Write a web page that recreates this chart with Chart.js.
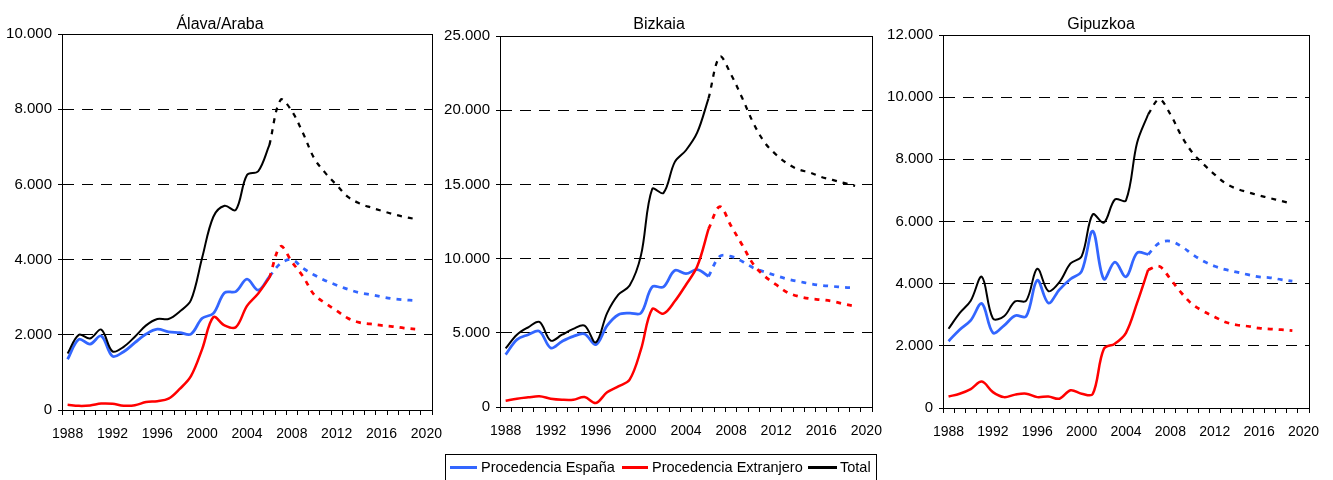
<!DOCTYPE html>
<html>
<head>
<meta charset="utf-8">
<script src="https://cdn.jsdelivr.net/npm/chart.js@4.4.1/dist/chart.umd.min.js"></script>
<style>
html, body { margin: 0; padding: 0; background: #fff; overflow: hidden; }
body { width: 1333px; height: 480px; position: relative; font-family: "Liberation Sans", Arial, sans-serif; color: #000; }
canvas { position: absolute; top: 0; }
.title { position: absolute; top: 15px; font-size: 16px; line-height: 18px; transform: translateX(-50%); white-space: nowrap; }
#legend { position: absolute; left: 445px; top: 454px; width: 432px; height: 34px; border: 1px solid #000; box-sizing: border-box; }
.sw { position: absolute; top: 11px; height: 3px; }
.lt { position: absolute; top: 4px; font-size: 14.5px; line-height: 17px; white-space: nowrap; }
</style>
</head>
<body>
<canvas id="c1" width="450" height="445" style="left:0px"></canvas>
<canvas id="c2" width="450" height="445" style="left:440px"></canvas>
<canvas id="c3" width="453" height="445" style="left:880px"></canvas>
<div class="title" style="left:220px">Álava/Araba</div>
<div class="title" style="left:659px">Bizkaia</div>
<div class="title" style="left:1101px">Gipuzkoa</div>
<div id="legend">
  <div class="sw" style="left:4px;width:27px;background:#3366ff"></div>
  <div class="lt" style="left:35px">Procedencia España</div>
  <div class="sw" style="left:176px;width:26px;background:#ff0000"></div>
  <div class="lt" style="left:206px">Procedencia Extranjero</div>
  <div class="sw" style="left:362px;width:29px;background:#000000"></div>
  <div class="lt" style="left:394px">Total</div>
</div>
<script>
const years = ['1988','1989','1990','1991','1992','1993','1994','1995','1996','1997','1998',
  '1999','2000','2001','2002','2003','2004','2005','2006','2007','2008','2009','2010',
  '2011','2012','2013','2014','2015','2016','2017','2018','2019','2020']

// datos observados 1988-2006
const alava_espana = [1350,1880,1750,1970,1430,1550,1790,2020,2150,2080,2060,2020,2440,2570,3120,3150,3480,3190,3550]
const alava_extranjero = [140,110,120,170,165,115,125,210,235,300,560,900,1620,2470,2250,2200,2770,3100,3520]
const alava_total = [1500,2000,1900,2140,1560,1680,1950,2250,2420,2420,2620,2920,4050,5140,5430,5320,6250,6350,7050]
const bizkaia_espana = [3530,4540,4870,5100,3980,4420,4760,4920,4200,5480,6220,6330,6330,8090,8100,9200,8980,9250,8800]
const bizkaia_extranjero = [420,560,650,720,560,490,490,670,270,990,1390,1840,3860,6600,6290,7120,8240,9480,12000]
const bizkaia_total = [3950,4870,5370,5730,4470,4870,5260,5480,4350,6330,7570,8180,10200,14690,14420,16500,17300,18500,20800]
const gipuzkoa_espana = [2150,2520,2820,3360,2420,2650,2970,2950,4110,3380,3810,4150,4400,5690,4150,4690,4220,4990,4940]
const gipuzkoa_extranjero = [370,460,610,850,510,350,430,460,350,370,300,570,460,450,1900,2070,2420,3380,4450]
const gipuzkoa_total = [2550,3050,3450,4220,2880,2950,3430,3450,4480,3760,4050,4650,4880,6230,5960,6710,6680,8530,9450]

// proyección 2006-2019
const alava_espana_proy = [3550,3900,4000,3770,3590,3440,3320,3210,3120,3070,3010,2960,2930,2910]
const alava_extranjero_proy = [3520,4350,3940,3550,3060,2840,2640,2440,2330,2290,2250,2220,2180,2150]
const alava_total_proy = [7050,8250,7950,7360,6690,6300,5980,5670,5500,5390,5300,5210,5140,5080]
const bizkaia_espana_proy = [8800,10150,10150,9810,9370,9100,8850,8620,8460,8310,8200,8130,8060,8020]
const bizkaia_extranjero_proy = [12000,13500,12200,10900,9590,8800,8240,7720,7450,7300,7230,7120,6940,6780]
const bizkaia_total_proy = [20800,23600,22400,20800,19100,17800,17000,16400,16000,15800,15500,15300,15100,14900]
const gipuzkoa_espana_proy = [4940,5310,5370,5200,4940,4720,4560,4450,4370,4290,4220,4190,4130,4080]
const gipuzkoa_extranjero_proy = [4450,4560,4150,3700,3330,3110,2930,2760,2670,2630,2570,2540,2520,2490]
const gipuzkoa_total_proy = [9450,9930,9450,8750,8210,7840,7510,7220,7050,6940,6840,6750,6660,6570]

const PROY_START = years.indexOf('2006')

function serie(values, start) {
  const out = years.map(() => null)
  values.forEach((v, i) => { out[start + i] = v })
  return out
}

function line(label, values, start, color, width, proy) {
  return {
    label: label,
    data: serie(values, start),
    borderColor: color,
    backgroundColor: color,
    borderWidth: width,
    borderDash: proy ? [5, 6] : [],
    borderCapStyle: 'butt',
    pointRadius: 0,
    pointHoverRadius: 0,
    tension: 0.35,
    fill: false
  }
}

function fmt(v) {
  return String(v).replace(/\B(?=(\d{3})+(?!\d))/g, '.')
}

const frame = {
  id: 'frame',
  beforeDatasetsDraw(chart) {
    const a = chart.chartArea
    const c = chart.ctx
    c.save()
    c.strokeStyle = '#000'
    c.lineWidth = 1
    c.strokeRect(Math.round(a.left) + 0.5, Math.round(a.top) + 0.5,
      Math.round(a.right - a.left), Math.round(a.bottom - a.top))
    c.restore()
  }
}

function panel(id, p, esp, ext, tot, espP, extP, totP) {
  const H = 445
  new Chart(document.getElementById(id), {
    type: 'line',
    data: {
      labels: years,
      datasets: [
        line('Total', tot, 0, '#000000', 2, false),
        line('Total', totP, PROY_START, '#000000', 2.25, true),
        line('Procedencia Extranjero', ext, 0, '#ff0000', 2.5, false),
        line('Procedencia Extranjero', extP, PROY_START, '#ff0000', 2.75, true),
        line('Procedencia España', esp, 0, '#3366ff', 2.75, false),
        line('Procedencia España', espP, PROY_START, '#3366ff', 2.75, true)
      ]
    },
    options: {
      responsive: false,
      animation: false,
      devicePixelRatio: 1,
      layout: { padding: { top: p.top, right: p.L + p.W - p.right, left: 0, bottom: 0 } },
      plugins: {
        legend: { display: false },
        tooltip: { enabled: false },
        title: { display: false }
      },
      scales: {
        x: {
          type: 'category',
          offset: true,
          grid: { offset: true, drawOnChartArea: false, drawTicks: true, tickLength: 5, color: '#000', tickColor: '#000' },
          border: { color: '#000', width: 1 },
          ticks: {
            autoSkip: false, maxRotation: 0, minRotation: 0, padding: 11,
            color: '#000', font: { size: 14 },
            callback: function(v, i) { return i % 4 === 0 ? this.getLabelForValue(v) : '' }
          },
          afterFit(s) { s.height = H - p.bottom; s.paddingLeft = 0; s.paddingRight = 0 }
        },
        y: {
          min: 0,
          max: p.max,
          ticks: { stepSize: p.step, padding: 6, color: '#000', font: { size: 15 }, callback: v => fmt(v) },
          grid: { color: '#000', lineWidth: 1, drawTicks: true, tickLength: 4, tickColor: '#000' },
          border: { color: '#000', width: 1, dash: [11, 8] },
          afterFit(s) { s.width = p.left - p.L; s.paddingTop = 0; s.paddingBottom = 0 }
        }
      }
    },
    plugins: [frame]
  })
}

Chart.defaults.font.family = '"Liberation Sans", Arial, sans-serif'

panel('c1', { L: 0, W: 450, left: 62, right: 432, top: 34, bottom: 410, max: 10000, step: 2000 },
  alava_espana, alava_extranjero, alava_total, alava_espana_proy, alava_extranjero_proy, alava_total_proy)
panel('c2', { L: 440, W: 450, left: 500, right: 872, top: 36, bottom: 407, max: 25000, step: 5000 },
  bizkaia_espana, bizkaia_extranjero, bizkaia_total, bizkaia_espana_proy, bizkaia_extranjero_proy, bizkaia_total_proy)
panel('c3', { L: 880, W: 453, left: 943, right: 1309, top: 35, bottom: 408, max: 12000, step: 2000 },
  gipuzkoa_espana, gipuzkoa_extranjero, gipuzkoa_total, gipuzkoa_espana_proy, gipuzkoa_extranjero_proy, gipuzkoa_total_proy)
</script>
</body>
</html>
